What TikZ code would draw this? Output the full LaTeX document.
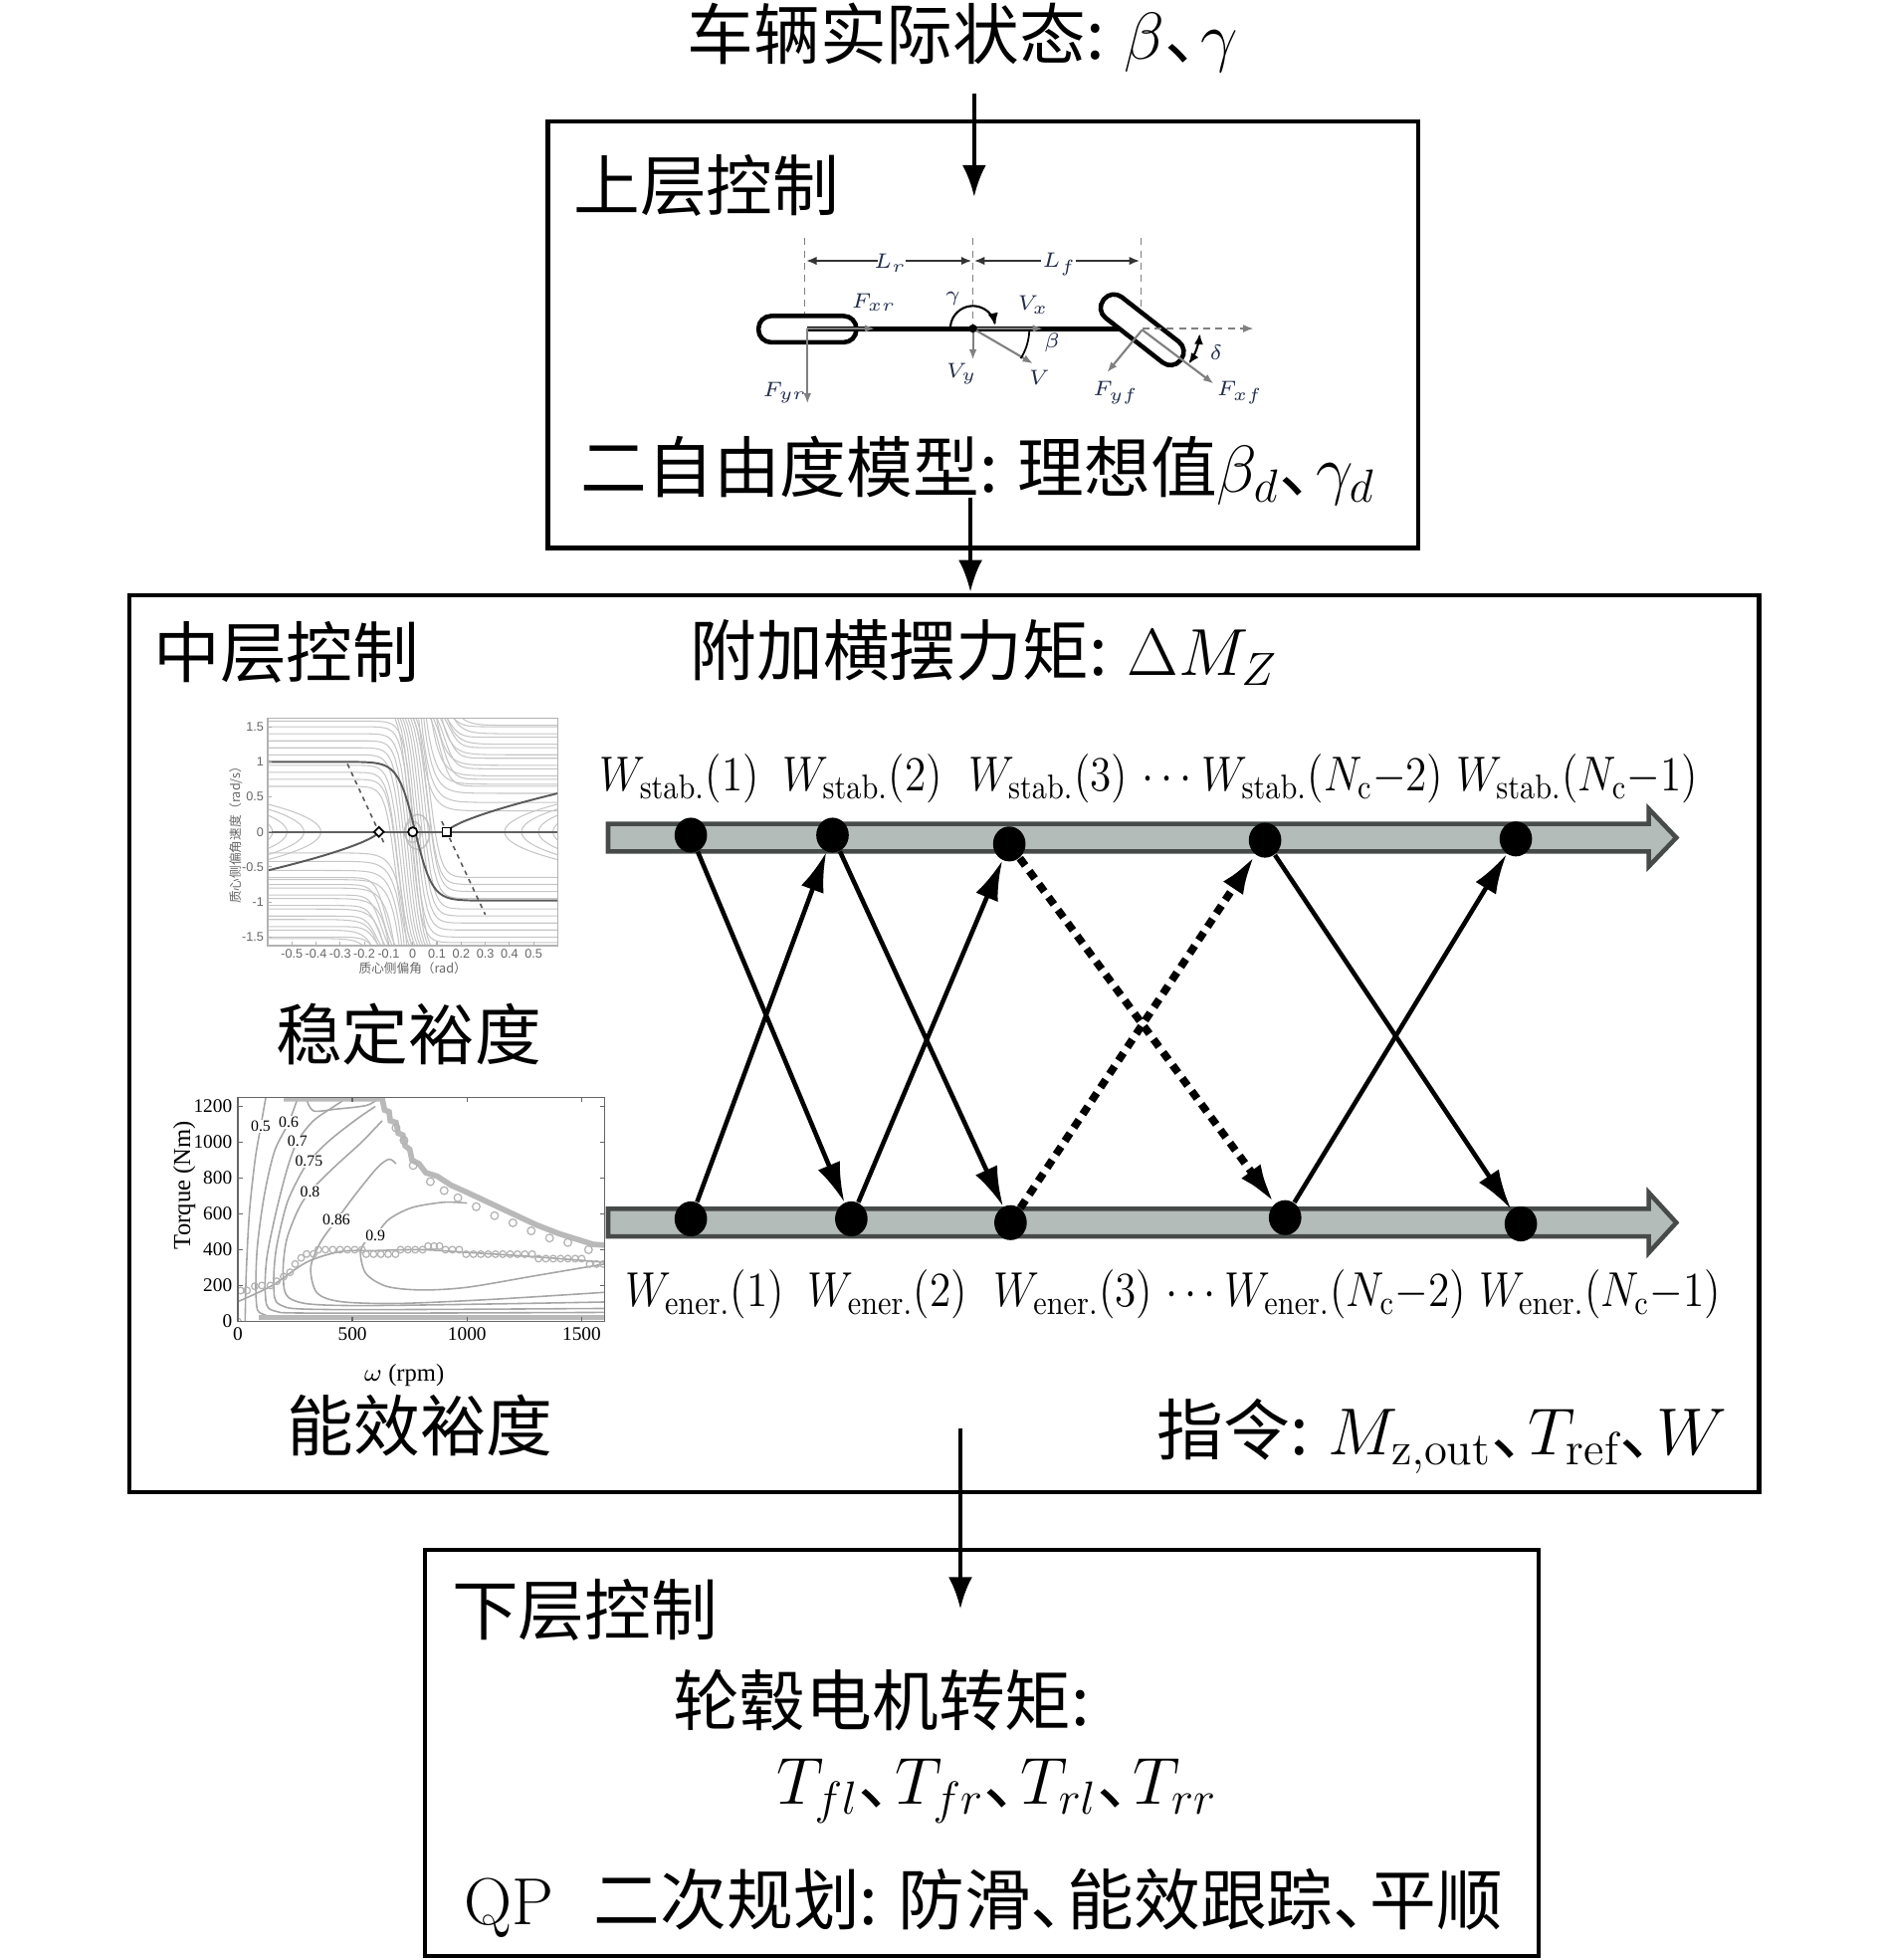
\RequirePackage{fix-cm}
\documentclass[tikz,border=0pt]{standalone}
\usepackage{fontspec}
\usepackage{graphicx}
\newfontfamily\cjk{Noto Sans CJK SC}
\newfontfamily\tms{Liberation Serif}
\newfontfamily\hel{Liberation Sans}
\usetikzlibrary{arrows.meta,shapes.geometric}
\definecolor{bandfill}{RGB}{180,188,185}
\definecolor{banddraw}{RGB}{70,75,73}
\definecolor{carlab}{RGB}{35,45,75}
\newcommand{\dn}{\makebox[0.55em][l]{\cjk 、}}
\newcommand{\hs}[1]{\scalebox{0.88}[1]{#1}}
\begin{document}
\begin{tikzpicture}[x=0.0126cm,y=-0.0126cm,
  bigtxt/.style={font=\fontsize{19}{23}\selectfont\cjk, inner sep=0pt},
  wlab/.style={font=\fontsize{14}{16}\selectfont, inner sep=0pt, anchor=base},
  boxline/.style={draw, line width=1.2pt},
  flowarr/.style={-{Latex[length=0.32cm,width=0.24cm]}, line width=1.1pt},
  xarr/.style={-{Latex[length=0.4cm,width=0.24cm]}, line width=1.3pt},
  xdash/.style={xarr, line width=2.2pt, dash pattern=on 2.6pt off 2pt},
  dotn/.style={ellipse, fill=black, minimum width=9.3pt, minimum height=10pt, inner sep=0pt},
  bandst/.style={fill=bandfill, draw=banddraw, line width=1.3pt},
  garr/.style={-{Latex[length=3pt,width=2.2pt]}, gray, line width=0.6pt},
  clab/.style={font=\fontsize{6}{7}\selectfont, text=carlab, inner sep=0.5pt},
  tk/.style={font=\fontsize{3.6}{4}\selectfont\hel, text=gray!80!black, inner sep=0.6pt},
  tkt/.style={font=\fontsize{5.5}{6}\selectfont\tms, inner sep=0.8pt},
  flowln/.style={gray!45, line width=0.3pt},
  cont/.style={gray!70, line width=0.45pt},
]
\useasboundingbox (0,0) rectangle (1500,1563);

% ---------- boxes ----------
\draw[boxline] (437,97) rectangle (1131,437);
\draw[boxline] (103,475) rectangle (1403,1190);
\draw[boxline] (339,1236) rectangle (1227,1560);

% ---------- texts ----------
\node[bigtxt] (state) at (768,30) {车辆实际状态: $\beta$\dn$\gamma$};
\node[bigtxt, anchor=west] (upl) at (457,148) {上层控制};
\node[bigtxt] (model) at (780,375) {二自由度模型: 理想值$\beta_d$\dn$\gamma_d$};
\node[bigtxt, anchor=west] (midl) at (122,520) {中层控制};
\node[bigtxt, anchor=west] (dmz) at (550,520) {附加横摆力矩: $\Delta M_Z$};
\node[bigtxt] (stab) at (326,825) {稳定裕度};
\node[bigtxt] (ener) at (335,1137) {能效裕度};
\node[bigtxt, anchor=east] (cmd) at (1378,1145) {指令: $M_{\mathrm{z,out}}$\dn$T_{\mathrm{ref}}$\dn$W$};
\node[bigtxt, anchor=west] (lowl) at (360,1284) {下层控制};
\node[bigtxt] (hub) at (703,1356) {轮毂电机转矩:};
\node[bigtxt] (tq) at (795,1428) {$T_{fl}$\dn$T_{fr}$\dn$T_{rl}$\dn$T_{rr}$};
\node[bigtxt, anchor=west] (qp) at (370,1518) {{\rmfamily QP}\hspace{0.6em}二次规划: 防滑\dn 能效跟踪\dn 平顺};

% ---------- vertical flow arrows ----------
\coordinate (a1s) at (777,75);  \coordinate (a1e) at (777,157);
\coordinate (a2s) at (774,397); \coordinate (a2e) at (774,472);
\coordinate (a3s) at (766,1139); \coordinate (a3e) at (766,1283);
\draw[flowarr] (a1s) -- (a1e);
\draw[flowarr] (a2s) -- (a2e);
\draw[flowarr] (a3s) -- (a3e);

% ---------- car model ----------
\begin{scope}
\draw[gray, line width=0.4pt, dash pattern=on 2pt off 1.5pt] (642,190) -- (642,262);
\draw[gray, line width=0.4pt, dash pattern=on 2pt off 1.5pt] (776,190) -- (776,262);
\draw[gray, line width=0.4pt, dash pattern=on 2pt off 1.5pt] (910,190) -- (910,262);
\draw[-{Latex[length=3pt,width=2.4pt]}, line width=0.5pt, black!80] (700,208) -- (643,208);
\draw[-{Latex[length=3pt,width=2.4pt]}, line width=0.5pt, black!80] (722,208) -- (775,208);
\draw[-{Latex[length=3pt,width=2.4pt]}, line width=0.5pt, black!80] (830,208) -- (777,208);
\draw[-{Latex[length=3pt,width=2.4pt]}, line width=0.5pt, black!80] (858,208) -- (909,208);
\node[clab] (lr) at (710,210) {$L_r$};
\node[clab] (lf) at (845,211) {$L_f$};
\draw[line width=1.3pt, fill=white, rounded corners=3.6pt] (605,252) rectangle (683,273);
\draw[line width=1.4pt] (644,262) -- (910,262);
\draw[line width=1.3pt, fill=white, rounded corners=3.6pt, rotate around={-38:(911,263)}] (872,252.5) rectangle (950,273.5);
\draw[garr] (644,262) -- (698,262);
\draw[garr] (644,262) -- (644,322);
\draw[garr] (776,262) -- (832,262);
\draw[garr] (776,262) -- (824,290);
\draw[garr] (776,262) -- (776,287);
\draw[gray, line width=0.5pt, dash pattern=on 2pt off 1.5pt, -{Latex[length=3pt,width=2.2pt]}] (911,262) -- (1000,262);
\draw[garr] (911,263) -- (883,297);
\draw[garr] (911,263) -- (968,306);
\draw[line width=0.6pt, -{Latex[length=3.5pt,width=3pt]}] plot[domain=180:8, samples=30] ({776+18*cos(\x)},{262-18*sin(\x)});
\draw[line width=0.5pt] plot[domain=2:32, samples=15] ({776+45*cos(\x)},{262+45*sin(\x)});
\draw[line width=0.6pt, {Latex[length=3pt,width=2.6pt]}-{Latex[length=3pt,width=2.6pt]}] plot[domain=4:36, samples=15] ({911+46*cos(\x)},{263+46*sin(\x)});
\fill (776,262) circle[radius=1.2pt];
\node[clab] (fxr) at (697,241) {$F_{xr}$};
\node[clab] (fyr) at (626,313) {$F_{yr}$};
\node[clab] (gam) at (760,238) {$\gamma$};
\node[clab] (vx) at (824,243) {$V_x$};
\node[clab] (bet) at (839,273) {$\beta$};
\node[clab] (vy) at (767,298) {$V_y$};
\node[clab] (vv) at (829,301) {$V$};
\node[clab] (fyf) at (890,313) {$F_{yf}$};
\node[clab] (fxf) at (989,313) {$F_{xf}$};
\node[clab] (del) at (970,281) {$\delta$};
\end{scope}

% ---------- phase portrait ----------
\begin{scope}[shift={(329.2,663.4)}, x=2.4307cm, y=0.7047cm]
  \begin{scope}
    \clip (-0.6,-1.62) rectangle (0.6,1.62);
    \foreach \L/\c in {-1.5/-0.16,-1.35/-0.15,-1.2/-0.15,-1.05/-0.14,-0.9/-0.13,-0.75/-0.12,-0.65/-0.11,0.65/-0.07,0.75/-0.06,0.85/-0.06,0.95/-0.05,1.1/-0.04,1.2/-0.03,1.3/-0.02,1.4/-0.01,1.5/0.0,1.58/0.01}{
      \draw[flowln] plot[domain=-0.6:0.6, samples=90] (\x,{\L-(\L+1.8)/(1+exp(max(min(-(\x-\c)/0.022,8),-8)))});
      \draw[flowln] plot[domain=-0.6:0.6, samples=90] (\x,{-\L+(\L+1.8)/(1+exp(max(min((\x+\c)/0.022,8),-8)))});
    }
    \foreach \L/\s in {0.3/0.02,0.42/0.03,0.55/0.04,0.68/0.05,0.8/0.07,0.95/0.09,1.1/0.11,1.25/0.13,1.4/0.15,1.52/0.17}{
      \draw[flowln] plot[domain=\s:0.6, samples=60] (\x,{\L+(1.8-\L)*exp(-(\x-\s)/0.035)});
      \draw[flowln] plot[domain=-0.6:-\s, samples=60] (\x,{-\L-(1.8-\L)*exp((\x+\s)/0.035)});
    }
    \foreach \v in {-0.58,-0.52,-0.45,-0.38}{
      \draw[flowln] plot[domain=-0.6:0.6, samples=40] ({\v-1.4*\x*\x},\x);
      \draw[flowln] plot[domain=-0.6:0.6, samples=40] ({-\v+1.4*\x*\x},\x);
    }
    \draw[gray!50, line width=0.4pt] (0.02,0) ellipse[x radius=0.05, y radius=0.25];
    \draw[gray!50, line width=0.4pt] (0.0,0) ellipse[x radius=0.035, y radius=0.15];
    \draw[gray!75!black, line width=0.5pt] (-0.6,0) -- (0.6,0);
    \draw[gray!70!black, line width=0.55pt] plot[domain=-0.6:0.6, samples=90] (\x,{1-1.98/(1+exp(max(min(-(\x-0.01)/0.035,8),-8)))});
    \draw[gray!70!black, line width=0.55pt] plot[domain=0.01:1, samples=30] ({-0.14-0.46*\x},{-0.55*\x^0.7});
    \draw[gray!70!black, line width=0.55pt] plot[domain=0.01:1, samples=30] ({0.14+0.46*\x},{0.55*\x^0.7});
    \draw[gray!70!black, line width=0.45pt, dash pattern=on 1.3pt off 1.3pt] (-0.27,0.97) -- (-0.12,-0.15);
    \draw[gray!70!black, line width=0.45pt, dash pattern=on 1.3pt off 1.3pt] (0.12,0.15) -- (0.3,-1.18);
  \end{scope}
  \node[diamond, draw, fill=white, line width=0.5pt, inner sep=0pt, minimum size=3pt] (m1) at (-0.14,0) {};
  \node[circle, draw, fill=white, line width=0.5pt, inner sep=0pt, minimum size=2.6pt] (m2) at (0,0) {};
  \node[rectangle, draw, fill=white, line width=0.5pt, inner sep=0pt, minimum size=2.4pt] (m3) at (0.14,0) {};
  \draw[gray!60, line width=0.4pt] (-0.6,-1.62) rectangle (0.6,1.62);
  \foreach \v in {-1.5,-1,-0.5,0,0.5,1,1.5}{
    \draw[gray!60, line width=0.3pt] (-0.6,\v) -- (-0.585,\v);
    \node[tk, anchor=east] at (-0.605,\v) {\v};
  }
  \foreach \v in {-0.5,-0.4,-0.3,-0.2,-0.1,0,0.1,0.2,0.3,0.4,0.5}{
    \draw[gray!60, line width=0.3pt] (\v,-1.62) -- (\v,-1.57);
    \node[tk, anchor=north] at (\v,-1.64) {\v};
  }
  \node[tk, font=\fontsize{3.6}{4}\selectfont\cjk] (phx) at (0,-1.94) {质心侧偏角（rad）};
  \node[tk, font=\fontsize{3.6}{4}\selectfont\cjk, rotate=90] (phy) at (-0.73,0) {质心侧偏角速度（rad/s）};
\end{scope}

% ---------- efficiency map ----------
\begin{scope}[shift={(189.7,1053.7)}, x=0.002298cm, y=0.0018013cm]
  \begin{scope}
    \clip (0,0) rectangle (1600,1250);
    \draw[cont] plot[smooth] coordinates {(32,0) (36,250) (50,600) (75,900) (100,1089) (122,1250)};
    \draw[cont] plot[smooth] coordinates {(1600,30) (300,28) (110,40) (80,120) (84,400) (115,700) (160,950) (222,1110) (262,1250)};
    \draw[cont] plot[smooth] coordinates {(1600,50) (350,46) (150,62) (120,150) (126,350) (165,600) (215,850) (260,1005) (330,1120) (420,1200) (480,1250)};
    \draw[cont] plot[smooth] coordinates {(1600,72) (400,66) (185,92) (157,200) (167,400) (212,650) (265,800) (310,893) (400,1010) (520,1130) (600,1200)};
    \draw[cont] plot[smooth] coordinates {(1600,108) (500,88) (235,122) (198,260) (212,450) (262,620) (315,725) (420,860) (540,1000) (600,1080) (630,1120)};
    \draw[cont] plot[smooth] coordinates {(1600,162) (1100,122) (700,100) (450,110) (345,160) (318,300) (360,440) (430,565) (520,720) (610,860) (660,905) (690,880)};
    \draw[cont] plot[smooth] coordinates {(1600,320) (1300,255) (1000,190) (800,175) (650,195) (560,265) (535,380) (560,450) (600,481) (660,570) (760,635) (900,665) (1000,660)};
    \draw[cont] plot[smooth] coordinates {(300,1240) (330,1175) (430,1185) (560,1205) (610,1240)};
    \draw[cont] plot[smooth] coordinates {(0,110) (150,200) (300,330) (450,390) (600,395) (800,400) (1000,385) (1300,360) (1600,330)};
    \draw[gray!55, line width=1.6pt] (200,1242) -- (630,1242) -- (640,1180) -- (660,1170) -- (665,1120) -- (690,1110) -- (700,1050) -- (720,1040) -- (730,980) -- (750,960) -- (760,900) -- (790,880) -- (820,830) -- (870,810) -- (930,760) -- (1000,720) -- (1100,660) -- (1200,600) -- (1300,540) -- (1400,490) -- (1500,450) -- (1550,430) -- (1600,425);
    \draw[gray!55, line width=1.2pt] (90,22) -- (1600,22);
    \foreach \p in {(690,1080),(725,1010),(765,870),(840,780),(900,730),(960,690),(1040,640),(1120,590),(1200,550),(1280,505),(1360,465),(1440,440),(1530,400)}{
      \draw[gray!60, line width=0.35pt] \p circle[radius=1.1pt];
    }
    \foreach \p in {(12,172),(40,172),(74,196),(105,200),(142,200),(170,224),(200,250),(228,274),(250,320),(276,354),(300,376),(330,376),(351,400),(382,400),(414,400),(446,400),(478,400),(510,400),(542,400),(560,375),(592,375),(624,375),(656,375),(688,375),(710,400),(742,400),(774,400),(806,400),(830,420),(856,420),(880,420),(906,400),(936,400),(966,400),(996,375),(1028,375),(1060,375),(1092,375),(1124,375),(1156,375),(1188,375),(1220,375),(1252,375),(1284,375),(1312,350),(1344,350),(1376,350),(1408,350),(1440,350),(1472,350),(1500,350),(1535,320),(1565,320),(1595,320),(0,0)}{
      \draw[gray!60, line width=0.35pt] \p circle[radius=0.95pt];
    }
  \end{scope}
  \foreach \t/\p in {0.5/{(100,1089)},0.6/{(222,1110)},0.7/{(260,1005)},0.75/{(310,893)},0.8/{(315,725)},0.86/{(430,565)},0.9/{(600,481)}}{
    \node[font=\fontsize{4.5}{5}\selectfont\tms, fill=white, inner sep=0.4pt] at \p {\t};
  }
  \draw[gray!80!black, line width=0.5pt] (0,0) rectangle (1600,1250);
  \foreach \v in {0,500,1000,1500}{
    \draw[gray!80!black, line width=0.4pt] (\v,0) -- (\v,25);
    \draw[gray!80!black, line width=0.4pt] (\v,1250) -- (\v,1225);
    \node[tkt, anchor=north] at (\v,-15) {\v};
  }
  \foreach \v in {0,200,400,600,800,1000,1200}{
    \draw[gray!80!black, line width=0.4pt] (0,\v) -- (20,\v);
    \draw[gray!80!black, line width=0.4pt] (1600,\v) -- (1580,\v);
    \node[tkt, anchor=east] at (-10,\v) {\v};
  }
  \node[font=\fontsize{7}{8}\selectfont\tms, rotate=90] (eyl) at (-234,760) {Torque (Nm)};
  \node[font=\fontsize{7}{8}\selectfont\tms] (exl) at (725,-300) {$\omega$ (rpm)};
\end{scope}

% ---------- weight bands ----------
\draw[bandst] (485,657) -- (1315,657) -- (1315,645) -- (1337,668) -- (1315,691) -- (1315,679) -- (485,679) -- cycle;
\draw[bandst] (485,964) -- (1315,964) -- (1315,951) -- (1337,975) -- (1315,999) -- (1315,986) -- (485,986) -- cycle;

\node[dotn] (t1) at (551,666) {};
\node[dotn] (t2) at (664,666) {};
\node[dotn] (t3) at (805,673) {};
\node[dotn] (t4) at (1009,670) {};
\node[dotn] (t5) at (1209,669) {};
\node[dotn] (b1) at (551,972) {};
\node[dotn] (b2) at (679,972) {};
\node[dotn] (b3) at (806,975) {};
\node[dotn] (b4) at (1025,971) {};
\node[dotn] (b5) at (1213,976) {};

\draw[xarr] (t1) -- (b2);
\draw[xarr] (b1) -- (t2);
\draw[xarr] (t2) -- (b3);
\draw[xarr] (b2) -- (t3);
\draw[xdash] (t3) -- (b4);
\draw[xdash] (b3) -- (t4);
\draw[xarr] (t4) -- (b5);
\draw[xarr] (b4) -- (t5);

\node[wlab] (ws1) at (542,631) {\hs{$W_{\mathrm{stab.}}(1)$}};
\node[wlab] (ws2) at (688,631) {\hs{$W_{\mathrm{stab.}}(2)$}};
\node[wlab] (ws3) at (836,631) {\hs{$W_{\mathrm{stab.}}(3)$}};
\node[wlab] (wsd) at (931,631) {\hs{$\cdots$}};
\node[wlab] (ws4) at (1055,631) {\hs{$W_{\mathrm{stab.}}(N_{\mathrm{c}}{-}2)$}};
\node[wlab] (ws5) at (1258,631) {\hs{$W_{\mathrm{stab.}}(N_{\mathrm{c}}{-}1)$}};
\node[wlab] (we1) at (562,1042) {\hs{$W_{\mathrm{ener.}}(1)$}};
\node[wlab] (we2) at (708,1042) {\hs{$W_{\mathrm{ener.}}(2)$}};
\node[wlab] (we3) at (856,1042) {\hs{$W_{\mathrm{ener.}}(3)$}};
\node[wlab] (wed) at (950,1042) {\hs{$\cdots$}};
\node[wlab] (we4) at (1073,1042) {\hs{$W_{\mathrm{ener.}}(N_{\mathrm{c}}{-}2)$}};
\node[wlab] (we5) at (1276,1042) {\hs{$W_{\mathrm{ener.}}(N_{\mathrm{c}}{-}1)$}};
\end{tikzpicture}
\end{document}
